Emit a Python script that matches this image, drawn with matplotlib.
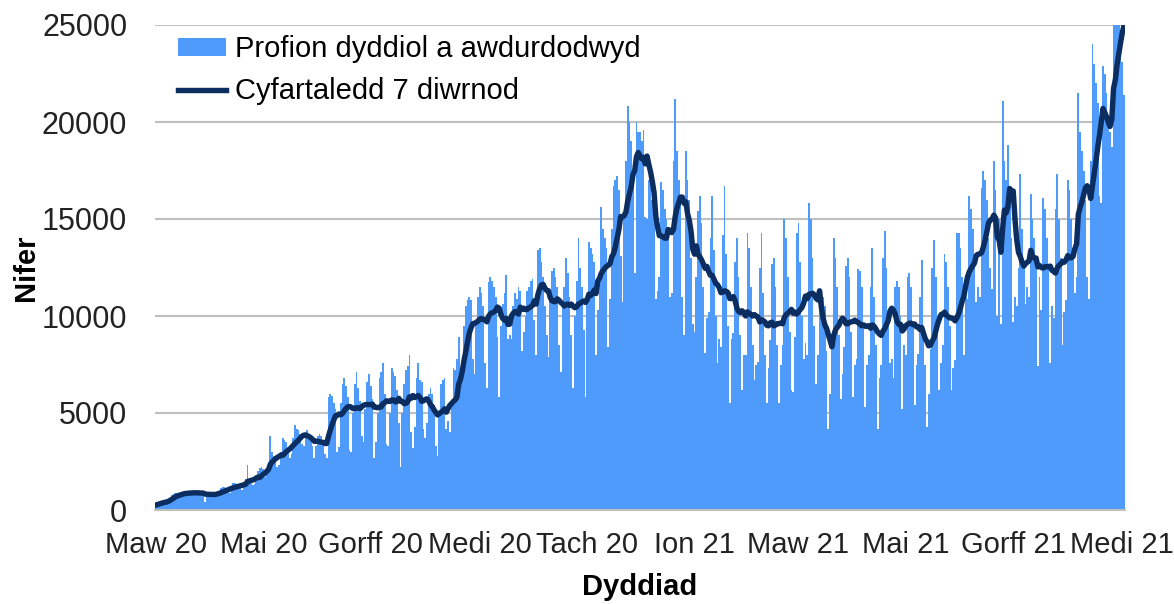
import numpy as np
import pandas as pd
import matplotlib
matplotlib.use('Agg')
import matplotlib.pyplot as plt

plt.rcParams['font.family'] = ['Liberation Sans', 'DejaVu Sans']

# --- DATA ---
START_DATE = '2020-03-01'

# daily authorised tests, one row per week (Sun..Sat)
daily_tests = [
    260, 310, 380, 420, 480, 530, 470,
    520, 640, 760, 850, 900, 880, 700,
    720, 850, 950, 980, 960, 900, 790,
    760, 880, 940, 950, 930, 880, 750,
    420, 820, 900, 940, 910, 860, 740,
    650, 1000, 1150, 1200, 1180, 1120, 1000,
    900, 1250, 1380, 1400, 1350, 1300, 1150,
    1050, 1450, 1600, 2300, 1620, 1500, 1300,
    1350, 1800, 2000, 2150, 2200, 2100, 1700,
    2000, 2500, 3800, 3000, 2800, 2700, 2200,
    2300, 3000, 3700, 3600, 3500, 3200, 2700,
    2900, 3700, 4400, 4200, 4100, 3900, 3400,
    3300, 3800, 4100, 3900, 3700, 3300, 2700,
    3300, 3800, 3900, 3800, 3600, 2900, 2700,
    5800, 6000, 5900, 5500, 5200, 3000, 3250,
    5500, 6500, 6800, 6400, 5800, 3100, 3000,
    5000, 6500, 7100, 6300, 5600, 3800, 3500,
    5200, 6600, 7000, 6400, 5700, 2700, 3500,
    5000, 6800, 7100, 7600, 6000, 3400, 3300,
    5000, 7300, 7100, 6900, 6200, 4500, 2200,
    5000, 6500, 7200, 7400, 8000, 4000, 3200,
    4300, 6800, 7600, 6700, 6600, 4200, 3700,
    4500, 6000, 6300, 6000, 5400, 3300, 2800,
    5000, 6500, 6700, 6800, 4200, 4600, 4000,
    5600, 7300, 7200, 7800, 8900, 6300, 6800,
    9500, 10500, 10800, 11000, 10800, 7800, 7000,
    9800, 11000, 11500, 11200, 10500, 7600, 6300,
    11750, 12000, 11800, 11500, 11000, 8900, 5850,
    9500, 10600, 11200, 12100, 8800, 9000, 8800,
    10500, 11200, 10900, 11500, 11300, 8200, 9200,
    10000, 11300, 11500, 11800, 11900, 9800, 8000,
    13400, 13500, 12800, 12000, 10500, 9000, 7900,
    11000, 12300, 12500, 12000, 11500, 8500, 7100,
    10500, 11500, 13000, 12200, 11000, 9000, 6300,
    10000, 11800, 14000, 12500, 11500, 9300, 5800,
    11000, 13800, 13500, 13200, 12800, 8000, 10300,
    12000, 15600, 14500, 14000, 13500, 8400, 10900,
    14500, 16700, 17000, 17200, 16500, 13100, 10700,
    15000, 18000, 20800, 20000, 19000, 17500, 12200,
    20000, 19500, 19500, 19000, 19600, 15100, 15000,
    17000, 16800, 16000, 15000, 10900, 11300, 12000,
    16900, 16500, 15500, 15000, 14000, 11000, 11200,
    18000, 21200, 18500, 17000, 16000, 11000, 9000,
    18500, 17000, 16000, 13000, 9600, 9200, 12000,
    15400, 16200, 14800, 11500, 8100, 9900, 10200,
    14000, 16200, 13400, 10000, 7600, 8800, 8400,
    14200, 16700, 13200, 9500, 5500, 8800, 9100,
    12800, 14000, 12000, 9000, 6200, 8000, 8000,
    14300, 13500, 11500, 8500, 6700, 7500, 7650,
    12500, 14300, 11200, 8000, 5500, 7300, 8750,
    12700, 13000, 11500, 8500, 5500, 7500, 8500,
    15000, 14000, 12000, 9200, 6200, 6100, 8900,
    14300, 14800, 12800, 10000, 7800, 8600, 8000,
    15800, 15000, 13000, 9500, 6500, 8000, 11300,
    10000, 11000, 10500, 8200, 4200, 6000, 9000,
    14000, 13000, 11500, 9000, 5700, 7000, 8400,
    12600, 13000, 12000, 9200, 5800, 7500, 7800,
    12400, 12300, 11500, 9500, 5300, 7500, 8000,
    11500, 13500, 11000, 8500, 4200, 6800, 7500,
    13000, 14400, 12500, 10000, 7600, 7800, 6800,
    11500, 11800, 11500, 10000, 5200, 8500, 8000,
    12000, 12200, 11500, 9500, 5400, 7500, 8050,
    11000, 12900, 9500, 7500, 4300, 6000, 8300,
    12500, 13900, 12000, 10000, 6200, 7600, 8500,
    13200, 12800, 11500, 9500, 6200, 7300, 7750,
    14300, 14300, 13500, 12000, 8000, 11000, 10900,
    16200, 15500, 14500, 13000, 10700, 11500, 11000,
    16600, 17500, 17000, 16000, 14000, 12500, 11400,
    18000, 16500, 10000, 15000, 9600, 21100, 18000,
    17000, 18800, 16500, 14000, 9700, 11000, 10500,
    12500, 17300, 14500, 12500, 10600, 11500, 11000,
    16300, 15000, 14000, 12500, 7400, 12000, 10300,
    16100, 15500, 14000, 12500, 7600, 10500, 9900,
    15500, 17300, 15000, 13000, 8500, 10200, 10800,
    17000, 16500, 15000, 13500, 11200, 12000, 21500,
    19500, 18500, 17500, 16000, 12000, 10900, 18000,
    24000, 23000, 22000, 21000, 16200, 15800, 22900,
    22500, 21500, 20000, 19500, 18700, 27000, 26000,
    28000, 25500, 24000, 23100, 21400,
]

tick_dates = ['2020-03-01', '2020-05-01', '2020-07-01', '2020-09-01', '2020-11-01',
              '2021-01-01', '2021-03-01', '2021-05-01', '2021-07-01', '2021-09-01']
tick_labels = ['Maw 20', 'Mai 20', 'Gorff 20', 'Medi 20', 'Tach 20',
               'Ion 21', 'Maw 21', 'Mai 21', 'Gorff 21', 'Medi 21']
y_ticks = [0, 5000, 10000, 15000, 20000, 25000]

BAR_COLOR = '#4F9BFC'
LINE_COLOR = '#0B2D5F'
GRID_COLOR = '#BFBFBF'

# --- PREP ---
dates = pd.date_range(START_DATE, periods=len(daily_tests), freq='D')
tests = pd.Series(daily_tests, index=dates, dtype=float)
avg7 = tests.rolling(7, min_periods=1).mean()

# --- PLOT ---
fig = plt.figure(figsize=(11.74, 6.04), dpi=100)
ax = fig.add_axes([155 / 1174, 1 - 510 / 604, 970 / 1174, 485 / 604])

bars = ax.bar(dates, tests.values, width=1.0, color=BAR_COLOR, linewidth=0,
              antialiased=False, label='Profion dyddiol a awdurdodwyd')
line, = ax.plot(dates, avg7.values, color=LINE_COLOR, linewidth=3.9,
                solid_joinstyle='round', label='Cyfartaledd 7 diwrnod')

ax.set_ylim(0, 25000)
ax.set_yticks(y_ticks)
ax.set_xlim(dates[0] - pd.Timedelta(hours=12), dates[-1] + pd.Timedelta(hours=12))
ax.set_xticks(pd.to_datetime(tick_dates))
ax.set_xticklabels(tick_labels)

ax.yaxis.grid(True, color=GRID_COLOR, linewidth=1.5)
ax.set_axisbelow(True)
for s in ['top', 'left', 'right']:
    ax.spines[s].set_visible(False)
ax.spines['bottom'].set_color(GRID_COLOR)
ax.spines['bottom'].set_linewidth(1.5)

ax.tick_params(axis='both', length=0, labelsize=21, colors='#222222')
ax.tick_params(axis='y', labelsize=22, pad=20)
ax.tick_params(axis='x', pad=15)

ax.set_xlabel('Dyddiad', fontsize=21, fontweight='bold', labelpad=10)
ax.set_ylabel('Nifer', fontsize=21, fontweight='bold', labelpad=1)

ax.legend([bars, line], ['Profion dyddiol a awdurdodwyd', 'Cyfartaledd 7 diwrnod'],
          loc='upper left', bbox_to_anchor=(0.012, 1.003), frameon=False,
          fontsize=21, handlelength=1.65, handleheight=0.55, handletextpad=0.3,
          labelspacing=0.48, borderaxespad=0)

fig.savefig('out.png', dpi=100)
